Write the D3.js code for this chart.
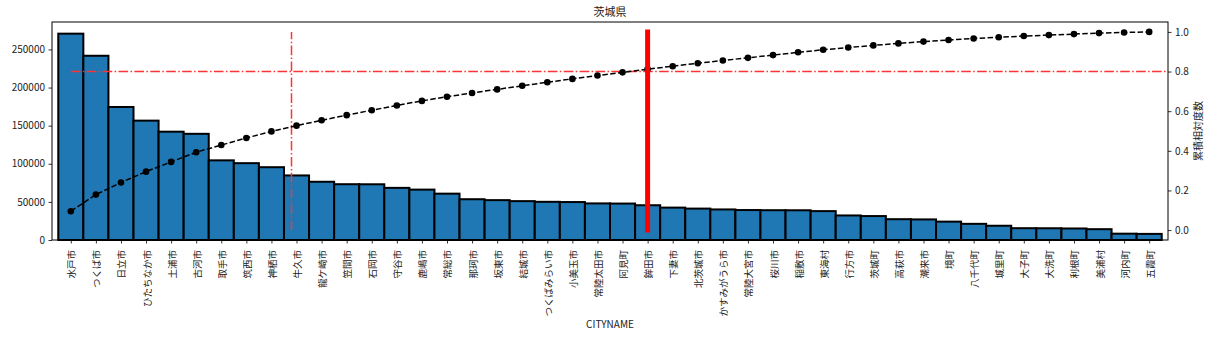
<!DOCTYPE html>
<html>
<head>
<meta charset="utf-8">
<script src="https://cdn.jsdelivr.net/npm/d3@7"></script>
<style>
  body { margin: 0; background: #fff; }
  svg text { font-family: "Noto Sans CJK JP", "Noto Sans", sans-serif; fill: #222; }
</style>
</head>
<body>
<div id="chart"></div>
<script>
const cities = ['水戸市', 'つくば市', '日立市', 'ひたちなか市', '土浦市', '古河市', '取手市', '筑西市', '神栖市', '牛久市',
  '龍ケ崎市', '笠間市', '石岡市', '守谷市', '鹿嶋市', '常総市', '那珂市', '坂東市', '結城市', 'つくばみらい市',
  '小美玉市', '常陸太田市', '阿見町', '鉾田市', '下妻市', '北茨城市', 'かすみがうら市', '常陸大宮市', '桜川市', '稲敷市',
  '東海村', '行方市', '茨城町', '高萩市', '潮来市', '境町', '八千代町', '城里町', '大子町', '大洗町',
  '利根町', '美浦村', '河内町', '五霞町'];

const population = [270700, 241700, 174500, 156600, 142100, 139300, 104500, 100800, 95500, 84700,
  76400, 73200, 73100, 68400, 66100, 60800, 53500, 52300, 51000, 50100,
  49800, 48000, 47800, 45600, 42500, 41200, 40100, 39300, 39100, 39000,
  37900, 32200, 31400, 27300, 27000, 24100, 21200, 18700, 15500, 15400,
  15100, 14200, 8300, 8000];

// cumulative relative frequency (right axis)
const cumRatio = [0.095, 0.179, 0.240, 0.295, 0.344, 0.393, 0.429, 0.465, 0.498, 0.527,
  0.554, 0.580, 0.605, 0.629, 0.652, 0.673, 0.692, 0.710, 0.728, 0.746,
  0.763, 0.780, 0.796, 0.812, 0.827, 0.842, 0.856, 0.869, 0.883, 0.897,
  0.910, 0.921, 0.932, 0.942, 0.951, 0.959, 0.967, 0.973, 0.979, 0.984,
  0.989, 0.994, 0.997, 1.000];

const yTicks = [0, 50000, 100000, 150000, 200000, 250000];
const y2Ticks = [0.0, 0.2, 0.4, 0.6, 0.8, 1.0];
const threshold = 0.8;   // horizontal line
const topShare = 0.2;    // vertical line at 20% of the cities
const cutIndex = 23;     // first city past 80%

const W = 1210, H = 337;
const margin = { top: 22, right: 42, bottom: 97, left: 52 };
const plotW = W - margin.left - margin.right;
const plotH = H - margin.top - margin.bottom;

const svg = d3.select('#chart')
  .append('svg')
  .attr('width', W)
  .attr('height', H);

const g = svg.append('g')
  .attr('transform', 'translate(' + margin.left + ',' + margin.top + ')');

const n = cities.length;
const x = d3.scaleLinear().domain([-0.75, n - 0.25]).range([0, plotW]);
const y = d3.scaleLinear().domain([0, 286000]).range([plotH, 0]);
const y2 = d3.scaleLinear().domain([-0.05, 1.05]).range([plotH, 0]);

g.append('clipPath').attr('id', 'clip')
  .append('rect').attr('width', plotW).attr('height', plotH);

// bars
g.selectAll('rect.bar')
  .data(population)
  .enter()
  .append('rect')
  .attr('class', 'bar')
  .attr('x', (d, i) => x(i - 0.5))
  .attr('width', (d, i) => x(i + 0.5) - x(i - 0.5))
  .attr('y', d => y(d))
  .attr('height', d => y(0) - y(d))
  .attr('fill', '#1f77b4')
  .attr('stroke', '#000')
  .attr('stroke-width', 2);

const over = g.append('g').attr('clip-path', 'url(#clip)');

// 80% horizontal line
over.append('line')
  .attr('x1', x(0)).attr('x2', x(n))
  .attr('y1', y2(threshold)).attr('y2', y2(threshold))
  .attr('stroke', '#ff3333')
  .attr('stroke-width', 1.5)
  .attr('stroke-dasharray', '9.6,2.4,1.5,2.4');

// 20% vertical line
over.append('line')
  .attr('x1', x(topShare * n)).attr('x2', x(topShare * n))
  .attr('y1', y2(0)).attr('y2', y2(1))
  .attr('stroke', '#ff3333')
  .attr('stroke-width', 1.5)
  .attr('stroke-dasharray', '9.6,2.4,1.5,2.4');

// cumulative line
const line = d3.line()
  .x((d, i) => x(i))
  .y(d => y2(d));

g.append('path')
  .datum(cumRatio)
  .attr('d', line)
  .attr('fill', 'none')
  .attr('stroke', '#000')
  .attr('stroke-width', 1.5)
  .attr('stroke-dasharray', '5.5,2.4');

g.selectAll('circle.dot')
  .data(cumRatio)
  .enter()
  .append('circle')
  .attr('class', 'dot')
  .attr('cx', (d, i) => x(i))
  .attr('cy', d => y2(d))
  .attr('r', 3.3)
  .attr('fill', '#000');

// cut position
g.append('line')
  .attr('x1', x(cutIndex)).attr('x2', x(cutIndex))
  .attr('y1', y2(0)).attr('y2', y2(1))
  .attr('stroke', '#ff0000')
  .attr('stroke-width', 5)
  .attr('stroke-linecap', 'square');

// axes
const xAxis = g.append('g')
  .attr('transform', 'translate(0,' + plotH + ')')
  .call(d3.axisBottom(x).tickValues(d3.range(n)).tickSize(3.5).tickFormat(i => cities[i]));
xAxis.selectAll('text')
  .attr('transform', 'translate(0,3) rotate(-90)')
  .attr('text-anchor', 'end')
  .attr('dominant-baseline', 'central')
  .attr('x', 0).attr('y', 0).attr('dy', null)
  .attr('dx', -7)
  .style('font-size', '9.5px');

const yAxis = g.append('g')
  .call(d3.axisLeft(y).tickValues(yTicks).tickSize(3.5).tickPadding(3.5).tickFormat(d3.format('d')));
yAxis.selectAll('text').style('font-size', '10px');

const y2Axis = g.append('g')
  .attr('transform', 'translate(' + plotW + ',0)')
  .call(d3.axisRight(y2).tickValues(y2Ticks).tickSize(3.5).tickPadding(3.5).tickFormat(d3.format('.1f')));
y2Axis.selectAll('text').style('font-size', '10px');

g.selectAll('.domain').remove();
g.selectAll('.tick line').attr('stroke', '#000').attr('stroke-width', 0.8);

// frame
g.append('rect')
  .attr('width', plotW).attr('height', plotH)
  .attr('fill', 'none')
  .attr('stroke', '#000')
  .attr('stroke-width', 1);

// labels
svg.append('text')
  .attr('x', margin.left + plotW / 2).attr('y', 16)
  .attr('text-anchor', 'middle')
  .style('font-size', '11px')
  .text('茨城県');

svg.append('text')
  .attr('x', margin.left + plotW / 2).attr('y', 328)
  .attr('text-anchor', 'middle')
  .style('font-size', '10px')
  .text('CITYNAME');

svg.append('text')
  .attr('transform', 'translate(1197,' + (margin.top + plotH / 2) + ') rotate(-90)')
  .attr('text-anchor', 'middle')
  .attr('dominant-baseline', 'central')
  .style('font-size', '10px')
  .text('累積相対度数');
</script>
</body>
</html>
